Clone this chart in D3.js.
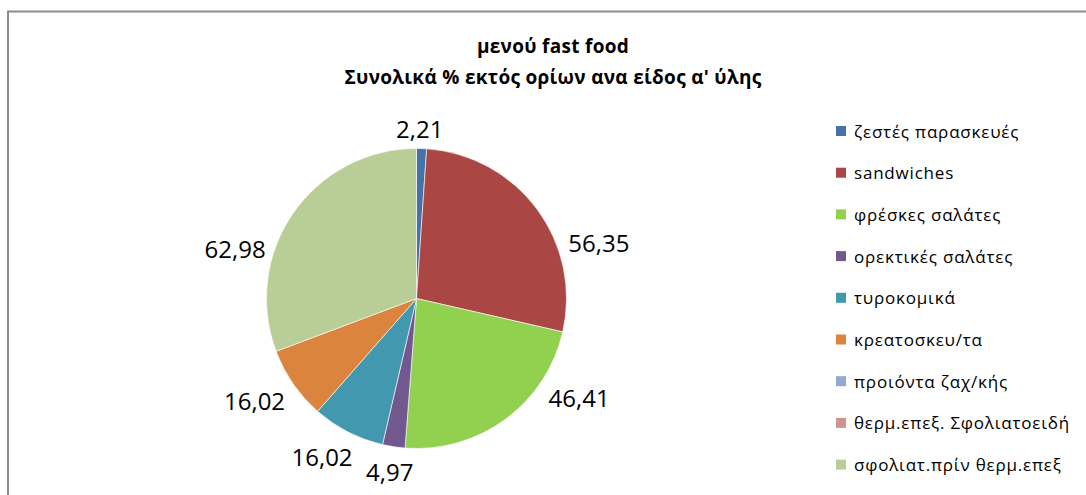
<!DOCTYPE html>
<html>
<head>
<meta charset="utf-8">
<script src="https://cdn.jsdelivr.net/npm/d3@7"></script>
<style>
  html, body { margin: 0; padding: 0; background: #fff; }
  svg { display: block; }
  text { font-family: "Open Sans", "Noto Sans", sans-serif; fill: #000; }
</style>
</head>
<body>
<svg id="chart" width="1086" height="495"></svg>
<script>
// Series: share of out-of-limit samples per raw-material type
const categories = [
  "ζεστές παρασκευές",
  "sandwiches",
  "φρέσκες σαλάτες",
  "ορεκτικές σαλάτες",
  "τυροκομικά",
  "κρεατοσκευ/τα",
  "προιόντα ζαχ/κής",
  "θερμ.επεξ. Σφολιατοειδή",
  "σφολιατ.πρίν θερμ.επεξ"
];
const values = [2.21, 56.35, 46.41, 4.97, 16.02, 16.02, 0, 0, 62.98];
const colors = ["#4572A7", "#AA4643", "#92D050", "#71588F", "#4198AF",
                "#DB843D", "#93A9CF", "#D19392", "#B9CD96"];
const titleLines = ["μενού fast food", "Συνολικά % εκτός ορίων ανα είδος α' ύλης"];

const fmt = v => d3.format(".2f")(v).replace(".", ",");

const svg = d3.select("#chart");

// chart area frame
svg.append("path")
  .attr("d", "M8,495 L8,11.5 L1086,11.5")
  .attr("fill", "none")
  .attr("stroke", "#8c8c8c")
  .attr("stroke-width", 2);

// title
svg.append("g").selectAll("text")
  .data(titleLines)
  .join("text")
  .attr("x", 553)
  .attr("y", (d, i) => 53 + i * 31)
  .attr("text-anchor", "middle")
  .attr("font-size", 19)
  .attr("font-weight", "bold")
  .attr("letter-spacing", 0.3)
  .text(d => d);

// pie
const cx = 416.5, cy = 298.5, radius = 150;
const pie = d3.pie().sort(null).value(d => d.value);
const rows = categories.map((c, i) => ({ name: c, value: values[i], color: colors[i] }));
const arcs = pie(rows);
const arc = d3.arc().innerRadius(0).outerRadius(radius);

const g = svg.append("g").attr("transform", `translate(${cx},${cy})`);
g.selectAll("path")
  .data(arcs.filter(a => a.data.value > 0))
  .join("path")
  .attr("d", arc)
  .attr("fill", d => d.data.color)
  .attr("stroke", "#fff")
  .attr("stroke-width", 0.6);

// best-fit label placement: [angle shift along the rim (deg), extra radial push (px)]
const labelNudge = {
  "ζεστές παρασκευές": [-0.9, -2],
  "sandwiches": [18.3, 5.5],
  "φρέσκες σαλάτες": [-20.3, 8],
  "ορεκτικές σαλάτες": [-0.3, 2.4],
  "τυροκομικά": [1.8, 8.5],
  "κρεατοσκευ/τα": [0.4, 9.5],
  "σφολιατ.πρίν θερμ.επεξ": [-18.2, 2.6]
};
const labelFont = 24;
const gap = 6;
const halfH = 16;
const labels = g.append("g").selectAll("text")
  .data(arcs.filter(a => a.data.value > 0))
  .join("text")
  .attr("font-size", labelFont)
  .attr("text-anchor", "middle")
  .attr("dominant-baseline", "central")
  .text(d => fmt(d.data.value));

labels.each(function(d) {
  const bb = this.getBBox();
  const [shift, push] = labelNudge[d.data.name] || [0, 0];
  const a = (d.startAngle + d.endAngle) / 2 + shift * Math.PI / 180;
  const s = Math.sin(a), c = -Math.cos(a);
  const r = radius + gap + push;
  d3.select(this)
    .attr("x", (r + bb.width / 2) * s)
    .attr("y", (r + halfH) * c);
});

// legend
const legend = svg.append("g").attr("transform", "translate(836,126)");
const item = legend.selectAll("g")
  .data(rows)
  .join("g")
  .attr("transform", (d, i) => `translate(0,${i * 41.7})`);
item.append("rect")
  .attr("width", 10).attr("height", 10)
  .attr("fill", d => d.color);
item.append("text")
  .attr("x", 18)
  .attr("y", 5)
  .attr("dominant-baseline", "central")
  .attr("font-size", 17)
  .attr("letter-spacing", 0.8)
  .text(d => d.name);
</script>
</body>
</html>
